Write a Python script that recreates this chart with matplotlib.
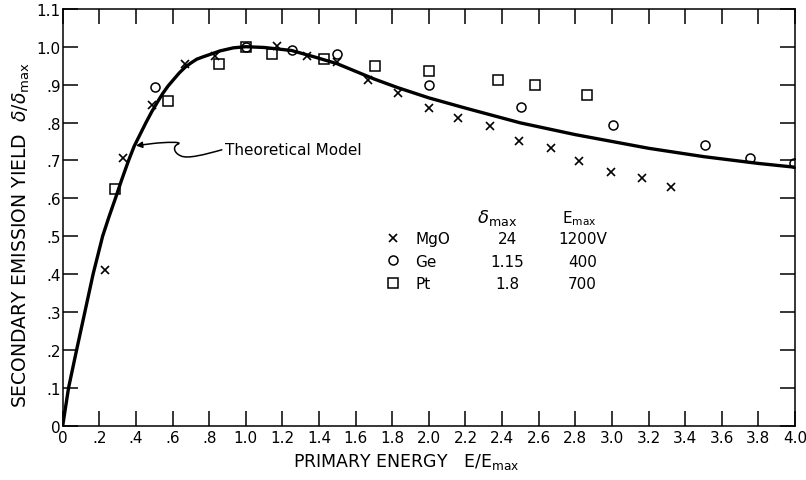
import numpy as np
import matplotlib
matplotlib.use("Agg")
import matplotlib.pyplot as plt
from matplotlib.path import Path
from matplotlib.patches import FancyArrowPatch

plt.rcParams["font.family"] = ["DejaVu Sans"]
plt.rcParams["mathtext.fontset"] = "dejavusans"

# theoretical curve
curve_x = [0, 0.032, 0.076, 0.121, 0.166, 0.218, 0.252, 0.288, 0.323, 0.36, 0.39,
           0.423, 0.455, 0.487, 0.52, 0.547, 0.575, 0.605, 0.637, 0.669, 0.70,
           0.732, 0.765, 0.801, 0.86, 0.932, 1.0, 1.1,
           1.25, 1.375, 1.5, 1.6, 1.7, 1.83, 2.0, 2.2, 2.5, 2.8, 3.0, 3.2, 3.5,
           3.8, 4.0]
curve_y = [0, 0.10, 0.20, 0.30, 0.40, 0.50, 0.55, 0.60, 0.65, 0.70, 0.737,
           0.769, 0.800, 0.829, 0.856, 0.877, 0.896, 0.913, 0.931, 0.946, 0.957,
           0.967, 0.973, 0.979, 0.989, 0.997, 1.0, 0.998,
           0.990, 0.973, 0.955, 0.935, 0.915, 0.892, 0.865, 0.838, 0.799, 0.768, 0.750, 0.732, 0.710,
           0.692, 0.682]

# measured points
mgo_x = [0.231, 0.331, 0.486, 0.668, 0.831, 1.171, 1.332, 1.496, 1.668, 1.832,
         2.001, 2.159, 2.336, 2.492, 2.669, 2.820, 2.997, 3.166, 3.324]
mgo_y = [0.411, 0.706, 0.846, 0.954, 0.975, 1.003, 0.976, 0.959, 0.912, 0.877,
         0.837, 0.812, 0.790, 0.752, 0.732, 0.699, 0.670, 0.653, 0.629]
ge_x = [0.504, 1.0, 1.253, 1.496, 2.001, 2.505, 3.005, 3.506, 3.755, 3.997]
ge_y = [0.893, 1.0, 0.991, 0.982, 0.899, 0.842, 0.793, 0.741, 0.706, 0.693]
pt_x = [0.285, 0.576, 0.853, 0.999, 1.144, 1.428, 1.708, 2.001, 2.378, 2.578, 2.864]
pt_y = [0.624, 0.858, 0.954, 1.0, 0.981, 0.967, 0.950, 0.937, 0.912, 0.899, 0.873]

materials = ["MgO", "Ge", "Pt"]
delta_max = ["24", "1.15", "1.8"]
e_max = ["1200V", "400", "700"]

x_ticks = np.arange(0, 4.01, 0.2)
x_labels = ["0", ".2", ".4", ".6", ".8", "1.0", "1.2", "1.4", "1.6", "1.8", "2.0",
            "2.2", "2.4", "2.6", "2.8", "3.0", "3.2", "3.4", "3.6", "3.8", "4.0"]
y_ticks = np.arange(0, 1.101, 0.1)
y_labels = ["0", ".1", ".2", ".3", ".4", ".5", ".6", ".7", ".8", ".9", "1.0", "1.1"]

FS = 11

fig = plt.figure(figsize=(8.06, 4.81), dpi=100)
ax = fig.add_axes([0.0778, 0.1129, 0.9086, 0.8667])

ax.plot(curve_x, curve_y, color="black", lw=2.4, solid_capstyle="round",
        solid_joinstyle="round", zorder=3)
h_mgo, = ax.plot(mgo_x, mgo_y, ls="none", marker="x", ms=5.5, mew=1.2, color="black")
h_ge, = ax.plot(ge_x, ge_y, ls="none", marker="o", ms=6.5, mew=1.1, mfc="none", color="black")
h_pt, = ax.plot(pt_x, pt_y, ls="none", marker="s", ms=7, mew=1.1, mfc="none", color="black")

ax.set_xlim(0, 4.0)
ax.set_ylim(0, 1.1)
ax.set_xticks(x_ticks)
ax.set_xticklabels(x_labels, fontsize=FS)
ax.set_yticks(y_ticks)
ax.set_yticklabels(y_labels, fontsize=FS)
ax.tick_params(direction="in", length=11, width=1.1, top=True, right=True, color="black")
ax.tick_params(axis="x", pad=3)
ax.tick_params(axis="y", pad=1.5)
for s in ax.spines.values():
    s.set_linewidth(1.1)

ax.set_xlabel(r"PRIMARY ENERGY   E/E$_{\rm max}$", fontsize=12.5)
ax.xaxis.set_label_coords(0.469, -0.060)
ax.set_ylabel(r"SECONDARY EMISSION YIELD  $\delta/\delta_{\rm max}$", fontsize=13.5)
ax.yaxis.set_label_coords(-0.042, 0.46)

# legend with the two value columns next to it
leg = ax.legend([h_mgo, h_ge, h_pt], materials, loc="upper left",
                bbox_to_anchor=(0.440, 0.467), frameon=False, fontsize=FS,
                handlelength=1.0, handletextpad=1.0, borderpad=0, borderaxespad=0,
                labelspacing=0.5)
row_y = [0.493, 0.433, 0.375]
for dm, em, yy in zip(delta_max, e_max, row_y):
    ax.text(2.43, yy, dm, ha="center", va="center", fontsize=FS)
    ax.text(2.84, yy, em, ha="center", va="center", fontsize=FS)
ax.text(2.37, 0.55, r"$\delta_{\rm max}$", ha="center", va="center", fontsize=FS + 2)
ax.text(2.824, 0.55, r"E$_{\rm max}$", ha="center", va="center", fontsize=FS)

# "Theoretical Model" label with wavy arrow
ax.text(0.887, 0.729, "Theoretical Model", ha="left", va="center", fontsize=FS)
verts = [(0.869, 0.728),
         (0.78, 0.716), (0.68, 0.703), (0.645, 0.712),
         (0.605, 0.720), (0.600, 0.738), (0.630, 0.743),
         (0.660, 0.750), (0.560, 0.748), (0.50, 0.745),
         (0.40, 0.739)]
codes = [Path.MOVETO] + [Path.CURVE4] * 9 + [Path.LINETO]
arr = FancyArrowPatch(path=Path(verts, codes), arrowstyle="-|>", mutation_scale=9,
                      lw=1.1, color="black", transform=ax.transData)
ax.add_patch(arr)

fig.savefig("out.png", dpi=100)
